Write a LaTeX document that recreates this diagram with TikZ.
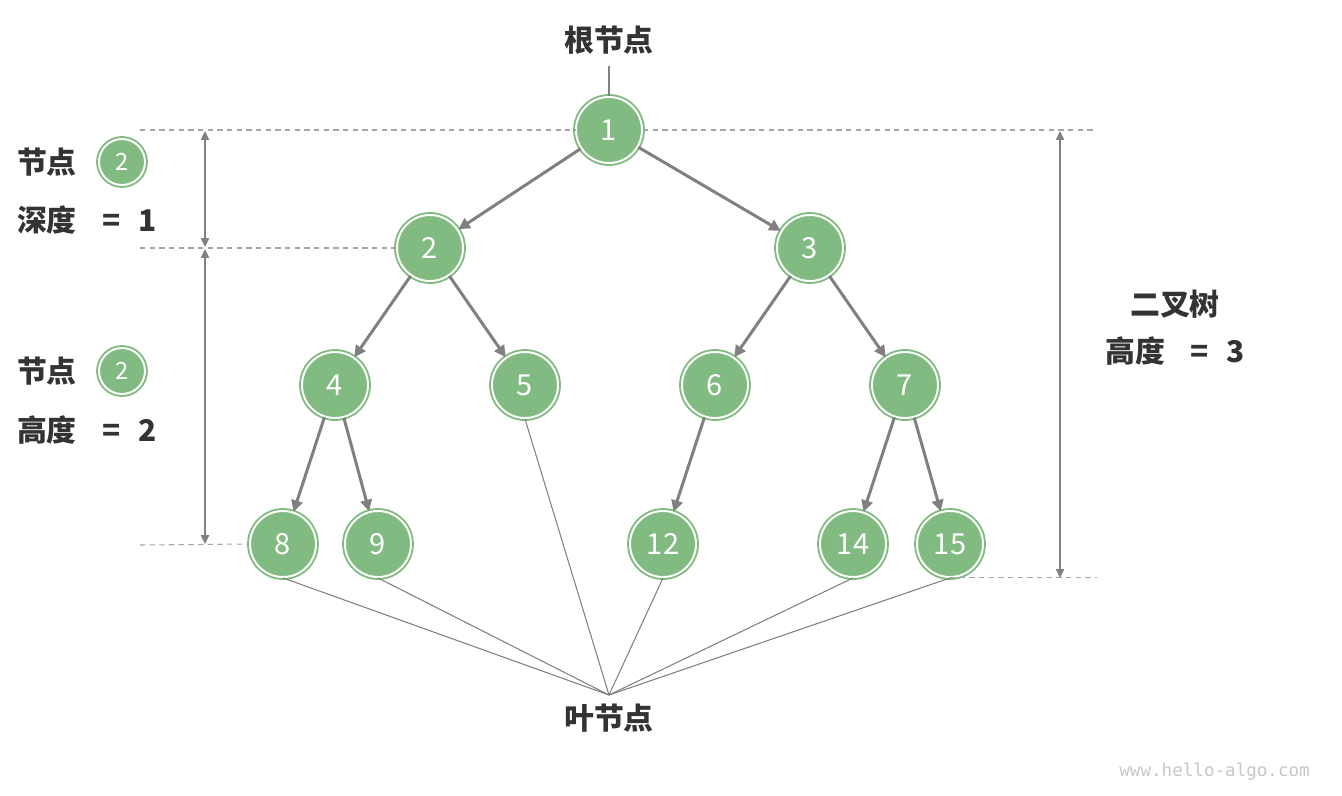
\documentclass[tikz,border=0pt]{standalone}
\usepackage{fontspec}
\setmainfont{Noto Sans CJK SC}
\newfontfamily\webfont{DejaVu Sans Mono}
\usetikzlibrary{arrows.meta}
\definecolor{nodegreen}{RGB}{130,187,129}
\definecolor{edgegray}{RGB}{128,128,128}
\definecolor{dashgray}{RGB}{165,165,165}
\definecolor{textgray}{RGB}{51,51,51}
\tikzset{
  treenode/.style={circle, fill=nodegreen, draw=nodegreen, double=white,
    double distance=1.1pt, line width=1.1pt, minimum size=1.32cm,
    inner sep=0pt, text=white, font=\fontsize{16.5}{18}\selectfont},
  mininode/.style={treenode, minimum size=0.92cm, font=\fontsize{13.5}{15}\selectfont},
  label/.style={text=textgray, font=\fontsize{17}{20}\selectfont\bfseries, inner sep=1pt},
  edge/.style={draw=edgegray, line width=1.7pt, -{Triangle[length=6.5pt,width=6.5pt]}},
  measure/.style={draw=edgegray, line width=1.1pt,
    {Triangle[length=5pt,width=4.5pt]}-{Triangle[length=5pt,width=4.5pt]}},
  guide/.style={draw=dashgray, line width=0.6pt, dash pattern=on 3pt off 2.5pt},
  pointer/.style={draw=edgegray, line width=0.6pt}
}
\begin{document}
\begin{tikzpicture}[x=0.02cm, y=-0.02cm]
    \useasboundingbox (0,0) rectangle (1342,795);

    % Nodes
    \node[treenode] (n1) at (609,130) {1};
    \node[treenode] (n2) at (430,248) {2};
    \node[treenode] (n3) at (810,248) {3};
    \node[treenode] (n4) at (335,385) {4};
    \node[treenode] (n5) at (525,385) {5};
    \node[treenode] (n6) at (715,385) {6};
    \node[treenode] (n7) at (905,385) {7};
    \node[treenode] (n8) at (283,544) {8};
    \node[treenode] (n9) at (378,544) {9};
    \node[treenode] (n12) at (663,544) {12};
    \node[treenode] (n14) at (853,544) {14};
    \node[treenode] (n15) at (950,544) {15};

    % Labels
    \node[label] (root) at (609,40) {根节点};
    \node[label] (leaf) at (609,718) {叶节点};
    \node[label, anchor=west] (depthnode) at (15,162) {节点};
    \node[mininode] (depthmini) at (122,162) {2};
    \node[label, anchor=west] (depth) at (15,220) {深度\hspace{0.85em}=\hspace{0.6em}1};
    \node[label, anchor=west] (heightnode) at (15,371) {节点};
    \node[mininode] (heightmini) at (122,371) {2};
    \node[label, anchor=west] (height) at (15,430) {高度\hspace{0.85em}=\hspace{0.6em}2};
    \node[label] (tree) at (1175,304) {二叉树};
    \node[label] (treeheight) at (1175,351) {高度\hspace{0.85em}=\hspace{0.6em}3};
    \node[anchor=east, text=black!22, font=\webfont\fontsize{10}{12}\selectfont] (site) at (1316,772) {www.hello-algo.com};

    % Guides
    \coordinate (g1l) at (140,130);
    \coordinate (g1r) at (1097,130);
    \coordinate (g2l) at (140,248);
    \coordinate (g3l) at (140,545);
    \coordinate (g4r) at (1097,580);
    \draw[guide] (g1l) -- (n1.west);
    \draw[guide] (n1.east) -- (g1r);
    \draw[guide] (g2l) -- (n2.west);
    \draw[guide] (g3l) -- (n8.west);
    \draw[guide] (n15.south) -- (n15.south -| g4r);

    % Measures
    \coordinate (m1t) at (205,131);
    \coordinate (m1b) at (205,247);
    \coordinate (m2t) at (205,249);
    \coordinate (m2b) at (205,544);
    \coordinate (m3t) at (1060,131);
    \coordinate (m3b) at (1060,578);
    \draw[measure] (m1t) -- (m1b);
    \draw[measure] (m2t) -- (m2b);
    \draw[measure] (m3t) -- (m3b);

    % Arrows
    \draw[edge] (n1) -- (n2);
    \draw[edge] (n1) -- (n3);
    \draw[edge] (n2) -- (n4);
    \draw[edge] (n2) -- (n5);
    \draw[edge] (n3) -- (n6);
    \draw[edge] (n3) -- (n7);
    \draw[edge] (n4) -- (n8);
    \draw[edge] (n4) -- (n9);
    \draw[edge] (n6) -- (n12);
    \draw[edge] (n7) -- (n14);
    \draw[edge] (n7) -- (n15);

    % Pointers
    \coordinate (leafpt) at (609,695);
    \draw[pointer] (root.south) ++(0,10) coordinate (roottip) -- (n1.north);
    \foreach \n in {n8,n9,n5,n12,n14,n15}
        \draw[pointer] (\n.south) -- (leafpt);
\end{tikzpicture}
\end{document}
